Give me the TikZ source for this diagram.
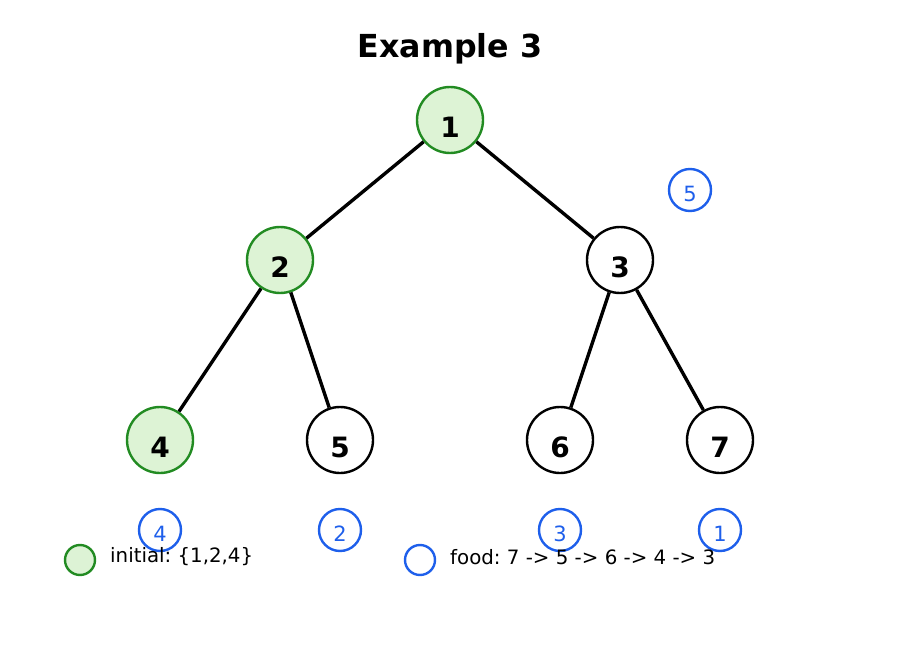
\documentclass[tikz,border=0pt]{standalone}
\usepackage{fontspec}
\setmainfont{DejaVu Sans}
\definecolor{tgreen}{RGB}{34,139,34}
\definecolor{tfill}{RGB}{221,243,213}
\definecolor{tblue}{RGB}{30,95,235}
\frenchspacing
\begin{document}
\begin{tikzpicture}[x=1pt,y=-1pt,
  treenode/.style={circle,draw=black,fill=white,line width=2.4pt,minimum size=66pt,inner sep=0pt,
    font=\fontsize{28}{28}\selectfont\bfseries,text height=34.5pt,text depth=0pt},
  initnode/.style={treenode,draw=tgreen,fill=tfill},
  foodmark/.style={circle,draw=tblue,line width=2.4pt,minimum size=42pt,inner sep=0pt,text=tblue,
    font=\fontsize{21}{21}\selectfont,text height=23.5pt,text depth=0pt},
  edge/.style={line width=3.4pt,black},
  legtext/.style={anchor=west,inner sep=0pt,font=\fontsize{19.8}{19.8}\selectfont}]
\useasboundingbox (0,0) rectangle (900,650);
\node[font=\fontsize{31.7}{31.7}\selectfont\bfseries] (title) at (450,49) {Example 3};
\node[initnode] (n1) at (450,120) {1};
\node[initnode] (n2) at (280,260) {2};
\node[treenode] (n3) at (620,260) {3};
\node[initnode] (n4) at (160,440) {4};
\node[treenode] (n5) at (340,440) {5};
\node[treenode] (n6) at (560,440) {6};
\node[treenode] (n7) at (720,440) {7};
\draw[edge] (n1) -- (n2);
\draw[edge] (n1) -- (n3);
\draw[edge] (n2) -- (n4);
\draw[edge] (n2) -- (n5);
\draw[edge] (n3) -- (n6);
\draw[edge] (n3) -- (n7);
\node[foodmark] (f5) at (690,190) {5};
\node[foodmark] (f4) at (160,530) {4};
\node[foodmark] (f2) at (340,530) {2};
\node[foodmark] (f3) at (560,530) {3};
\node[foodmark] (f1) at (720,530) {1};
\node[circle,draw=tgreen,fill=tfill,line width=2.4pt,minimum size=30pt,inner sep=0pt] (lg) at (80,560) {};
\node[legtext] (lgt) at (110,557) {initial: \{1,2,4\}};
\node[circle,draw=tblue,line width=2.4pt,minimum size=30pt,inner sep=0pt] (lb) at (420,560) {};
\node[legtext] (lbt) at (450,557) {food: 7 -> 5 -> 6 -> 4 -> 3};
\end{tikzpicture}
\end{document}
